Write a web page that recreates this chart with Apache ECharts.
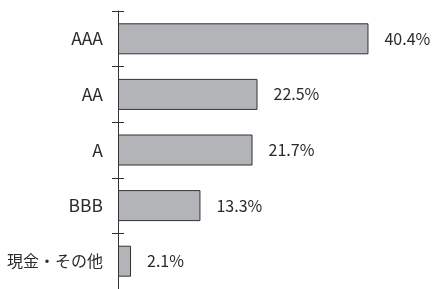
<!DOCTYPE html>
<html>
<head>
<meta charset="utf-8">
<script src="https://cdn.jsdelivr.net/npm/echarts@6/dist/echarts.min.js"></script>
<style>
  html, body { margin: 0; padding: 0; background: #fff; }
  #chart { width: 436px; height: 289px; }
</style>
</head>
<body>
<div id="chart"></div>
<script>
var categories = ['AAA', 'AA', 'A', 'BBB', '現金・その他'];
var values = [40.4, 22.5, 21.7, 13.3, 2.1];

var FONT = '"Noto Sans CJK JP", "Noto Sans", sans-serif';

var chart = echarts.init(document.getElementById('chart'));
var option = {
    backgroundColor: '#fff',
    animation: false,
    grid: { left: 118, right: 8, top: 11, bottom: -2 },
    xAxis: {
        type: 'value',
        min: 0,
        max: 50,
        show: false
    },
    yAxis: [{
        type: 'category',
        data: categories,
        inverse: true,
        axisLine: { show: true, lineStyle: { color: '#333', width: 1 } },
        axisTick: { show: true, length: 6, lineStyle: { color: '#333' } },
        axisLabel: {
            margin: 15,
            fontSize: 16,
            color: '#2a2a2a',
            fontFamily: FONT,
            formatter: function (v) {
                // 英字の格付けは少し大きめ
                return /^[A-Z]+$/.test(v) ? '{l|' + v + '}' : v;
            },
            rich: {
                l: { fontSize: 17.5, color: '#2a2a2a', fontFamily: FONT }
            }
        }
    }, {
        // 内側の目盛り（軸をまたぐ目盛り用）
        type: 'category',
        data: categories,
        inverse: true,
        position: 'left',
        axisLine: { show: false },
        axisTick: { show: true, inside: true, length: 6, lineStyle: { color: '#333' } },
        axisLabel: { show: false }
    }],
    series: [{
        type: 'bar',
        data: values,
        barWidth: 31,
        itemStyle: { color: '#b3b4b7', borderColor: '#333', borderWidth: 1 },
        label: {
            show: true,
            position: 'right',
            distance: 16,
            fontSize: 16,
            color: '#2a2a2a',
            fontFamily: FONT,
            formatter: function (p) { return p.value.toFixed(1) + '%'; }
        }
    }]
};
chart.setOption(option);
</script>
</body>
</html>
